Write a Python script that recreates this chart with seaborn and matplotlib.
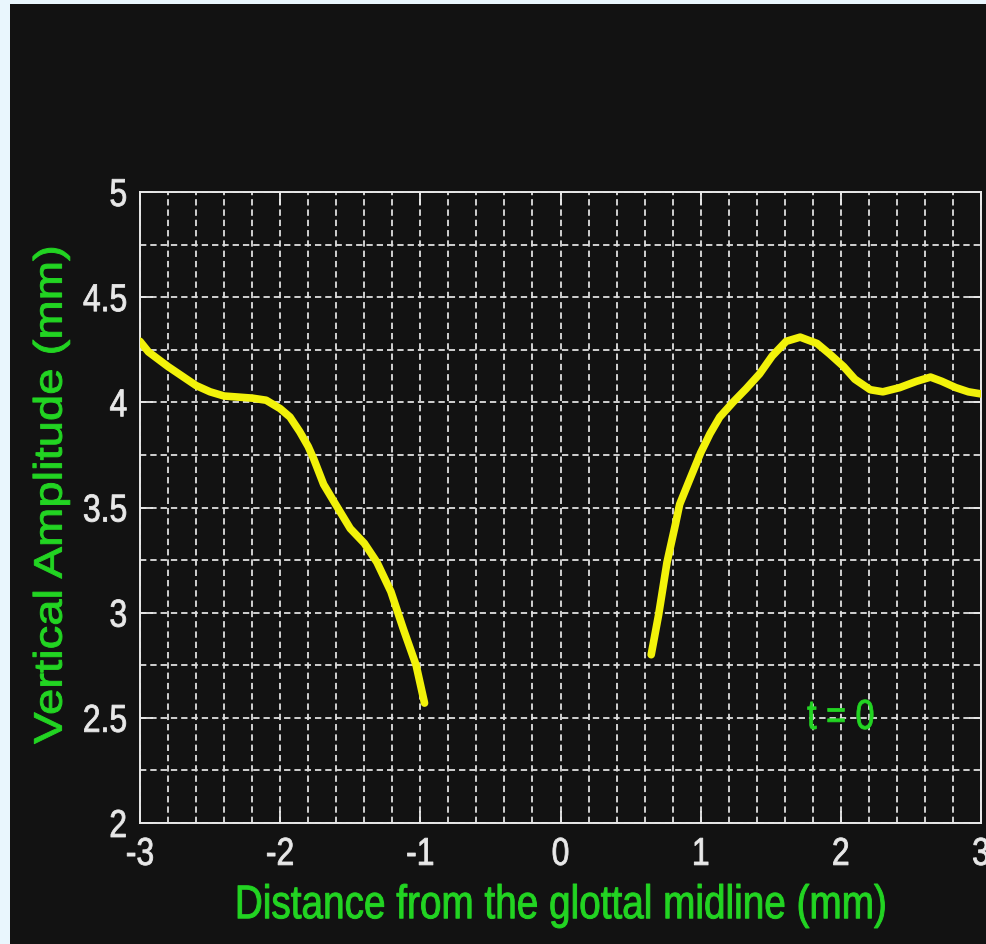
import numpy as np
import pandas as pd
import seaborn as sns
import matplotlib
matplotlib.use("Agg")
import matplotlib.pyplot as plt
from matplotlib.ticker import MultipleLocator, FixedLocator
from matplotlib.patches import Rectangle
from matplotlib.patheffects import AbstractPathEffect
from matplotlib.path import Path
from matplotlib.transforms import Affine2D

# ---- data ----
left_x = [-3.0, -2.94, -2.8, -2.6, -2.5, -2.4, -2.2, -2.1, -2.0, -1.93, -1.86, -1.8,
          -1.76, -1.69, -1.6, -1.5, -1.4, -1.31, -1.21, -1.12, -1.03, -0.97]
left_y = [4.29, 4.24, 4.17, 4.08, 4.05, 4.03, 4.02, 4.01, 3.97, 3.93, 3.86, 3.79,
          3.73, 3.61, 3.51, 3.40, 3.33, 3.24, 3.10, 2.92, 2.75, 2.57]
right_x = [0.647, 0.70, 0.76, 0.82, 0.85, 0.92, 1.0, 1.066, 1.136, 1.23, 1.325, 1.42,
           1.51, 1.61, 1.71, 1.83, 1.92, 2.02, 2.10, 2.21, 2.30, 2.42, 2.54, 2.64,
           2.72, 2.82, 2.91, 3.0]
right_y = [2.80, 2.99, 3.24, 3.42, 3.515, 3.63, 3.76, 3.85, 3.93, 4.00, 4.065, 4.135,
           4.22, 4.29, 4.31, 4.28, 4.23, 4.17, 4.11, 4.06, 4.05, 4.07, 4.10, 4.12,
           4.10, 4.07, 4.05, 4.04]
x_ticks = [-3, -2, -1, 0, 1, 2, 3]
x_tick_labels = ["-3", "-2", "-1", "0", "1", "2", "3"]
y_ticks = [2, 2.5, 3, 3.5, 4, 4.5, 5]
y_tick_labels = ["2", "2.5", "3", "3.5", "4", "4.5", "5"]
x_label = "Distance from the glottal midline (mm)"
y_label = "Vertical Amplitude (mm)"
annotation = "t = 0"


class SqueezeX(AbstractPathEffect):
    """Narrow the rendered text horizontally (on screen) about an anchor,
    optionally thickening the glyph strokes slightly."""

    def __init__(self, sx=0.82, anchor=0.5, stroke=0.0):
        super().__init__()
        self.sx = sx
        self.anchor = anchor
        self.stroke = stroke

    def draw_path(self, renderer, gc, tpath, affine, rgbFace=None):
        verts = affine.transform(tpath.vertices)
        codes = tpath.codes
        if len(verts):
            if codes is not None:
                mask = codes != Path.CLOSEPOLY
                ref = verts[mask] if mask.any() else verts
            else:
                ref = verts
            xmin, xmax = ref[:, 0].min(), ref[:, 0].max()
            cx = xmin + self.anchor * (xmax - xmin)
            verts = verts.copy()
            verts[:, 0] = cx + self.sx * (verts[:, 0] - cx)
        path = Path(verts, codes)
        if self.stroke > 0 and rgbFace is not None:
            gc0 = renderer.new_gc()
            gc0.copy_properties(gc)
            gc0.set_linewidth(self.stroke)
            gc0.set_foreground(rgbFace)
            renderer.draw_path(gc0, path, Affine2D(), rgbFace)
            gc0.restore()
        else:
            renderer.draw_path(gc, path, Affine2D(), rgbFace)


sns.set_theme(style="dark")
plt.rcParams["font.family"] = ["Liberation Sans", "DejaVu Sans"]
plt.rcParams["axes.unicode_minus"] = False

BG = "#121212"
EDGE = "#e9f6fd"
GREEN = "#22d422"
WHITE = "#e8e8e8"
YELLOW = "#f2f20a"

fig = plt.figure(figsize=(9.86, 9.44), dpi=100, facecolor=BG)
fig.patches.append(Rectangle((0, 0), 10 / 986, 1, transform=fig.transFigure,
                             facecolor=EDGE, edgecolor="none", zorder=-10))
fig.patches.append(Rectangle((0, 940 / 944), 1, 4 / 944, transform=fig.transFigure,
                             facecolor=EDGE, edgecolor="none", zorder=-10))

ax = fig.add_axes([140 / 986, (944 - 823) / 944, (981 - 140) / 986, (823 - 192) / 944])
ax.set_facecolor(BG)

left_df = pd.DataFrame({"x": left_x, "y": left_y})
right_df = pd.DataFrame({"x": right_x, "y": right_y})
sns.lineplot(data=left_df, x="x", y="y", ax=ax, color=YELLOW, linewidth=5.5,
             sort=False, estimator=None, zorder=5)
sns.lineplot(data=right_df, x="x", y="y", ax=ax, color=YELLOW, linewidth=5.5,
             sort=False, estimator=None, zorder=5)
for ln in ax.lines:
    ln.set_solid_joinstyle("round")
    ln.set_solid_capstyle("round")

ax.set_xlim(-3, 3)
ax.set_ylim(2, 5)
ax.xaxis.set_major_locator(FixedLocator(x_ticks))
ax.yaxis.set_major_locator(FixedLocator(y_ticks))
ax.set_xticklabels(x_tick_labels, fontsize=28, color=WHITE)
ax.set_yticklabels(y_tick_labels, fontsize=28, color=WHITE)
for lbl in ax.get_xticklabels():
    lbl.set_path_effects([SqueezeX(0.82, 0.5, 0.6)])
for lbl in ax.get_yticklabels():
    lbl.set_path_effects([SqueezeX(0.82, 1.0, 0.6)])
ax.xaxis.set_minor_locator(MultipleLocator(0.2))
ax.yaxis.set_minor_locator(MultipleLocator(0.25))

ax.grid(True, which="both", color="#e0e0e0", linestyle=(0, (3.5, 2.2)), linewidth=1.3)
ax.tick_params(axis="both", which="major", direction="in", length=9, width=1.3,
               color=WHITE, top=True, right=True, bottom=True, left=True)
ax.tick_params(axis="x", which="major", pad=10)
ax.tick_params(axis="y", which="major", pad=9)
ax.tick_params(axis="both", which="minor", length=0)
for s in ax.spines.values():
    s.set_visible(True)
    s.set_color(WHITE)
    s.set_linewidth(1.4)

ax.set_xlabel(x_label, fontsize=34, color=GREEN)
ax.set_ylabel(y_label, fontsize=34, color=GREEN)
ax.xaxis.label.set_path_effects([SqueezeX(0.82, 0.5, 0.7)])
ax.yaxis.label.set_path_effects([SqueezeX(0.84, 0.5, 0.7)])
ax.xaxis.set_label_coords(0.5, -0.097)
ax.yaxis.set_label_coords(-0.079, 0.52)

t = ax.text(2.0, 2.5, annotation, ha="center", va="center", fontsize=30,
            color=GREEN, zorder=6)
t.set_path_effects([SqueezeX(0.82, 0.5, 0.6)])

fig.savefig("out.png", dpi=100, facecolor=BG)
